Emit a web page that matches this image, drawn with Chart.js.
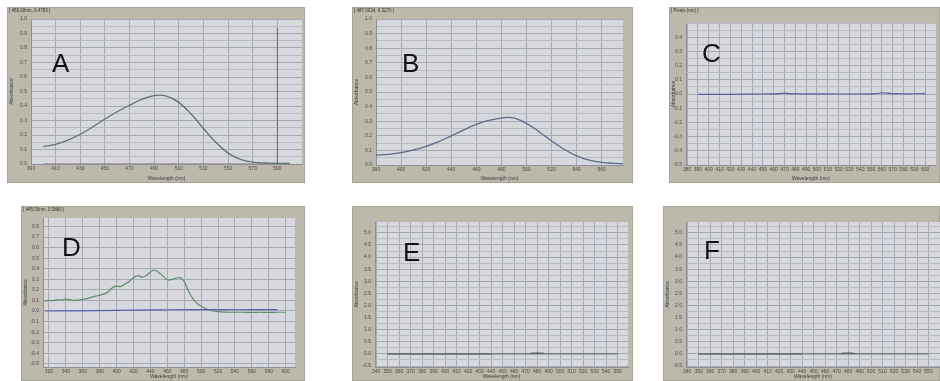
<!DOCTYPE html>
<html>
<head>
  <meta charset="UTF-8">
  <title>Absorbance spectra A-F</title>
  <script src="https://cdn.jsdelivr.net/npm/chart.js"></script>
  <style>
    body {
      margin: 0;
      width: 940px;
      height: 381px;
      background: #fff;
      position: relative;
      overflow: hidden;
      font-family: 'Liberation Sans', Arial, sans-serif;
    }
    .panel {
      position: absolute;
      background: #bdb9aa;
      box-shadow: inset 0 0 0 1px #a7a394;
    }
    .panel canvas { position: absolute; left: 0; top: 0; }
    .cap {
      position: absolute;
      left: 2px;
      top: 1px;
      font-size: 4.5px;
      color: #333;
      white-space: nowrap;
    }
    .letter {
      position: absolute;
      font-size: 26px;
      line-height: 1;
      color: #111;
    }
  </style>
</head>
<body>

<script>
  // ---- A ----
  const aWave = [400, 410, 420, 430, 440, 450, 460, 470, 480, 490, 500, 510, 520, 530, 540, 550, 560, 570, 580, 590, 600];
  const aAbs  = [0.12, 0.135, 0.165, 0.205, 0.255, 0.31, 0.36, 0.405, 0.445, 0.472, 0.468, 0.425, 0.345, 0.245, 0.15, 0.075, 0.032, 0.013, 0.007, 0.005, 0.004];
  const aBaseWave = [400, 600];
  const aBaseAbs  = [0.0, 0.0];
  const aCursorWave = [590, 590];
  const aCursorAbs  = [0.0, 0.94];
  const aXTicks = [390, 410, 430, 450, 470, 490, 510, 530, 550, 570, 590];
  const aYTicks = [0.0, 0.1, 0.2, 0.3, 0.4, 0.5, 0.6, 0.7, 0.8, 0.9, 1.0];

  // ---- B ----
  const bWave = [380, 390, 400, 410, 420, 430, 440, 450, 460, 470, 480, 485, 490, 500, 510, 520, 530, 540, 550, 560, 570, 577];
  const bAbs  = [0.068, 0.073, 0.085, 0.103, 0.128, 0.16, 0.2, 0.24, 0.278, 0.305, 0.322, 0.326, 0.322, 0.285, 0.228, 0.165, 0.108, 0.063, 0.034, 0.018, 0.011, 0.009];
  const bXTicks = [380, 400, 420, 440, 460, 480, 500, 520, 540, 560];
  const bYTicks = [0.0, 0.1, 0.2, 0.3, 0.4, 0.5, 0.6, 0.7, 0.8, 0.9, 1.0];

  // ---- C ----
  const cWave = [390, 420, 450, 465, 470, 475, 500, 530, 555, 560, 565, 570, 600];
  const cAbs  = [-0.003, -0.002, 0.0, 0.003, 0.006, 0.003, 0.001, 0.0, 0.003, 0.008, 0.006, 0.002, 0.002];
  const cXTicks = [380, 390, 400, 410, 420, 430, 440, 450, 460, 470, 480, 490, 500, 510, 520, 530, 540, 550, 560, 570, 580, 590, 600];
  const cYTicks = [0.4, 0.3, 0.2, 0.1, 0.0, -0.1, -0.2, -0.3, -0.4, -0.5];

  // ---- D ----
  const dWave  = [315, 320, 325, 330, 335, 340, 345, 350, 355, 360, 365, 370, 375, 380, 385, 390, 395, 400, 405, 410, 415, 420, 425, 430, 435, 440, 445, 450, 455, 460, 465, 470, 475, 480, 485, 490, 495, 500, 505, 510, 515, 520, 530, 540, 550, 560, 570, 580, 590, 600];
  const dGreen = [0.092, 0.1, 0.098, 0.108, 0.104, 0.11, 0.107, 0.1, 0.104, 0.11, 0.117, 0.128, 0.14, 0.15, 0.16, 0.18, 0.22, 0.235, 0.232, 0.255, 0.28, 0.315, 0.335, 0.32, 0.333, 0.37, 0.388, 0.365, 0.33, 0.295, 0.296, 0.31, 0.316, 0.28, 0.19, 0.12, 0.075, 0.044, 0.022, 0.01, 0.0, -0.006, -0.01, -0.012, -0.012, -0.013, -0.012, -0.013, -0.012, -0.012];
  const dBlueWave = [315, 350, 400, 450, 480, 500, 530, 560, 590];
  const dBlue     = [0.0, 0.002, 0.006, 0.01, 0.013, 0.013, 0.012, 0.012, 0.012];
  const dXTicks = [320, 340, 360, 380, 400, 420, 440, 460, 480, 500, 520, 540, 560, 580, 600];
  const dYTicks = [0.8, 0.7, 0.6, 0.5, 0.4, 0.3, 0.2, 0.1, 0.0, -0.1, -0.2, -0.3, -0.4, -0.5];

  // ---- E ----
  const eWave = [350, 400, 440, 470, 550];
  const eAbs  = [0.0, 0.0, 0.0, 0.0, 0.0];
  const eDarkWave = [350, 400, 440, null, 474, 480, 486];
  const eDarkAbs  = [0.0, 0.0, 0.0, null, 0.02, 0.03, 0.02];
  const eXTicks = [340, 350, 360, 370, 380, 390, 400, 410, 420, 430, 440, 450, 460, 470, 480, 490, 500, 510, 520, 530, 540, 550];
  const eYTicks = [5.0, 4.5, 4.0, 3.5, 3.0, 2.5, 2.0, 1.5, 1.0, 0.5, 0.0, -0.5];

  // ---- F ----
  const fWave = [350, 400, 440, 470, 550];
  const fAbs  = [0.0, 0.0, 0.0, 0.0, 0.0];
  const fDarkWave = [350, 400, 440, null, 474, 480, 486];
  const fDarkAbs  = [0.0, 0.0, 0.0, null, 0.02, 0.03, 0.02];
  const fXTicks = [340, 350, 360, 370, 380, 390, 400, 410, 420, 430, 440, 450, 460, 470, 480, 490, 500, 510, 520, 530, 540, 550];
  const fYTicks = [5.0, 4.5, 4.0, 3.5, 3.0, 2.5, 2.0, 1.5, 1.0, 0.5, 0.0, -0.5];

  const pts = (xs, ys) => xs.map((x, i) => (x === null ? { x: null, y: null } : { x: x, y: ys[i] }));

  const line = (data, color, width, extra) => Object.assign({
    data: data, borderColor: color, borderWidth: width || 1.2,
    pointRadius: 0, tension: 0.4, fill: false, spanGaps: false
  }, extra || {});

  // grid values = labelled ticks plus minor ones between them
  function withMinor(ticks, step) {
    const out = ticks.slice();
    if (step) {
      const lo = Math.min(...ticks), hi = Math.max(...ticks);
      for (let v = lo - step; v < hi + 2 * step; v += step) out.push(+v.toFixed(3));
    }
    return [...new Set(out.map(v => +v.toFixed(3)))].sort((a, b) => a - b);
  }

  const plotBg = {
    id: 'plotBg',
    beforeDraw(chart) {
      const a = chart.chartArea, c = chart.ctx;
      c.save();
      c.fillStyle = '#d6d8de';
      c.fillRect(a.left, a.top, a.right - a.left, a.bottom - a.top);
      c.restore();
    }
  };

  const panels = [
    { name: 'A', frame: [7, 7, 298, 176], inset: [24, 12, 3, 19], letter: [52, 50],
      cap: '[ 486.00nm, 0.4783 ]',
      x: [390, 610, aXTicks, 0], y: [0, 1.0, aYTicks, 0.05, 1],
      sets: [line(pts(aWave, aAbs), '#5f706e', 1.3),
             line(pts(aBaseWave, aBaseAbs), '#8c6d6d', 1),
             line(pts(aCursorWave, aCursorAbs), '#6a6a70', 1)] },
    { name: 'B', frame: [352, 7, 281, 176], inset: [24, 12, 10, 18], letter: [402, 50],
      cap: '[ 487.0034, 0.3270 ]',
      x: [380, 577, bXTicks, 0], y: [0, 1.0, bYTicks, 0.05, 1],
      sets: [line(pts(bWave, bAbs), '#5d6a8c', 1.3)] },
    { name: 'C', frame: [669, 7, 271, 176], inset: [17, 16, 4, 18], letter: [702, 40],
      cap: '[ Pixels (nm) ]',
      x: [379, 610, cXTicks, 0], y: [-0.5, 0.5, cYTicks, 0.05, 1],
      sets: [line(pts(cWave, cAbs), '#5c5f9e', 1.2)] },
    { name: 'D', frame: [21, 206, 284, 175], inset: [22, 12, 10, 14], letter: [62, 234],
      cap: '[ 445.00nm, 0.3880 ]',
      x: [313, 611, dXTicks, 0], y: [-0.53, 0.88, dYTicks, 0.1, 1],
      sets: [line(pts(dBlueWave, dBlue), '#5b5fb0', 1.2),
             line(pts(dWave, dGreen), '#5f8c68', 1.2, { tension: 0.3 })] },
    { name: 'E', frame: [352, 206, 281, 175], inset: [23, 16, 5, 14], letter: [403, 239],
      cap: '',
      x: [339, 559, eXTicks, 0], y: [-0.54, 5.45, eYTicks, 0.25, 1],
      sets: [line(pts(eWave, eAbs), '#6d7873', 1.2, { tension: 0 }),
             line(pts(eDarkWave, eDarkAbs), '#3d4845', 1.3, { tension: 0 })] },
    { name: 'F', frame: [663, 206, 277, 175], inset: [23, 16, 0, 14], letter: [704, 237],
      cap: '',
      x: [339, 560, fXTicks, 0], y: [-0.54, 5.45, fYTicks, 0.25, 1],
      sets: [line(pts(fWave, fAbs), '#6d7873', 1.2, { tension: 0 }),
             line(pts(fDarkWave, fDarkAbs), '#3d4845', 1.3, { tension: 0 })] }
  ];

  const tickFont = { family: "'Liberation Sans', Arial, sans-serif", size: 5 };

  panels.forEach(p => {
    const [fl, ft, fw, fh] = p.frame;
    const [il, it, ir, ib] = p.inset;

    const div = document.createElement('div');
    div.className = 'panel';
    div.style.cssText = `left:${fl}px;top:${ft}px;width:${fw}px;height:${fh}px;`;
    const canvas = document.createElement('canvas');
    canvas.width = fw;
    canvas.height = fh;
    div.appendChild(canvas);
    if (p.cap) {
      const cap = document.createElement('div');
      cap.className = 'cap';
      cap.textContent = p.cap;
      div.appendChild(cap);
    }
    document.body.appendChild(div);

    const letter = document.createElement('div');
    letter.className = 'letter';
    letter.textContent = p.name;
    letter.style.left = p.letter[0] + 'px';
    letter.style.top = p.letter[1] + 'px';
    document.body.appendChild(letter);

    const [xMin, xMax, xLabels] = p.x;
    const [yMin, yMax, yLabels, yStep, yDec] = p.y;
    const xGrid = withMinor(xLabels, 0).filter(v => v >= xMin && v <= xMax);
    const yGrid = withMinor(yLabels, yStep).filter(v => v >= yMin - 1e-6 && v <= yMax + 1e-6);
    const ySet = new Set(yLabels.map(v => v.toFixed(yDec)));

    new Chart(canvas, {
      type: 'line',
      data: { datasets: p.sets },
      plugins: [plotBg],
      options: {
        responsive: false,
        animation: false,
        devicePixelRatio: 1,
        parsing: true,
        layout: { padding: { left: 2, top: it, right: ir, bottom: 1 } },
        plugins: { legend: { display: false }, tooltip: { enabled: false } },
        scales: {
          x: {
            type: 'linear', min: xMin, max: xMax,
            afterFit: s => { s.height = ib - 1; },
            afterBuildTicks: s => { s.ticks = xGrid.map(v => ({ value: v })); },
            ticks: { autoSkip: false, maxRotation: 0, padding: 2, color: '#4a4a4a', font: tickFont,
                     callback: v => (xLabels.includes(v) ? String(v) : '') },
            grid: { color: '#a6a9b4', lineWidth: 1, drawTicks: false },
            border: { color: '#8d909a' },
            title: { display: true, text: 'Wavelength (nm)', color: '#3a3a3a', font: tickFont,
                     padding: { top: 0, bottom: 0 } }
          },
          y: {
            type: 'linear', min: yMin, max: yMax,
            afterFit: s => { s.width = il - 2; },
            afterBuildTicks: s => { s.ticks = yGrid.map(v => ({ value: v })); },
            ticks: { autoSkip: false, padding: 4, color: '#4a4a4a', font: tickFont,
                     callback: v => (ySet.has((+v).toFixed(yDec)) && Math.abs(v - +(+v).toFixed(yDec)) < 1e-6 ? (+v).toFixed(yDec) : '') },
            grid: {
              drawTicks: false, lineWidth: 1,
              color: ctx => (ctx.tick && ySet.has((+ctx.tick.value).toFixed(yDec)) &&
                             Math.abs(ctx.tick.value - +(+ctx.tick.value).toFixed(yDec)) < 1e-6 ? '#a6a9b4' : '#b8bbc4')
            },
            border: { color: '#8d909a' },
            title: { display: true, text: 'Absorbance', color: '#3a3a3a', font: tickFont,
                     padding: { top: 0, bottom: 0 } }
          }
        }
      }
    });
  });
</script>

</body>
</html>
